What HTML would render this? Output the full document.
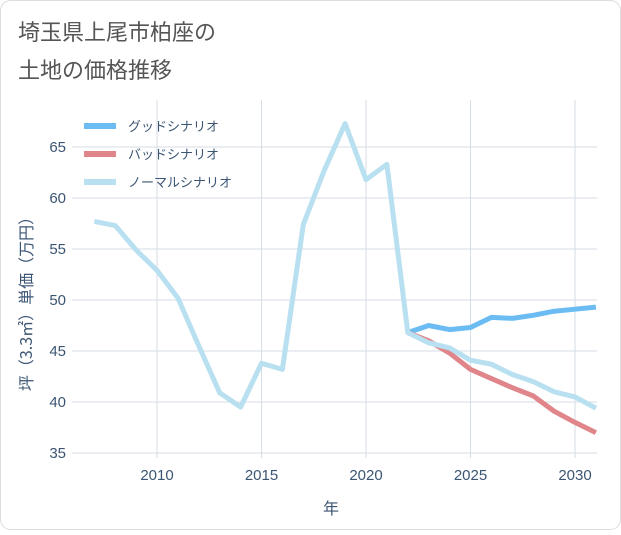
<!DOCTYPE html>
<html><head><meta charset="utf-8"><style>
body{margin:0;background:#fff;}
#wrap{position:relative;width:621px;height:530px;font-family:"Liberation Sans","Noto Sans CJK JP",sans-serif;}
</style></head><body>
<div id="wrap">
<svg id="chart" width="621" height="530">
<rect x="0.5" y="0.5" width="620" height="529" rx="10" fill="#fff" stroke="#ddd"/>
<text x="18" y="40" font-size="22" fill="#555" font-family="Noto Sans CJK JP, sans-serif">埼玉県上尾市柏座の</text>
<text x="18" y="78" font-size="22" fill="#555" font-family="Noto Sans CJK JP, sans-serif">土地の価格推移</text>
<g id="grid"></g><g id="series"></g><g id="axes"></g>
<text x="331" y="514" font-size="16" fill="#3b5573" text-anchor="middle" font-family="Noto Sans CJK JP, sans-serif">年</text>
<text transform="translate(32,300) rotate(-90)" font-size="16" fill="#3b5573" text-anchor="middle" font-family="Noto Sans CJK JP, sans-serif">坪（3.3㎡）単価（万円）</text>
<g id="legend"></g>
</svg></div>
<script>
const years=[2007,2008,2009,2010,2011,2012,2013,2014,2015,2016,2017,2018,2019,2020,2021,2022,2023,2024,2025,2026,2027,2028,2029,2030,2031];
const normal=[57.7,57.3,54.9,52.9,50.2,45.5,40.9,39.5,43.8,43.2,57.4,62.7,67.3,61.8,63.3,46.8,45.8,45.3,44.1,43.7,42.7,42.0,41.0,40.5,39.4];
const goodYears=[2022,2023,2024,2025,2026,2027,2028,2029,2030,2031];
const good=[46.8,47.5,47.1,47.3,48.3,48.2,48.5,48.9,49.1,49.3];
const bad=[46.8,46.0,44.8,43.2,42.3,41.4,40.6,39.1,38.0,37.0];
const xTicks=[2010,2015,2020,2025,2030];
const yTicks=[35,40,45,50,55,60,65];
const legendLabels=["グッドシナリオ","バッドシナリオ","ノーマルシナリオ"];
const ns="http://www.w3.org/2000/svg";
const L=72,R=597,T=100,B=458;
const xs=y=>157+(y-2010)*20.9;
const ys=v=>453-(v-35)*10.2;
function mk(tag,attrs,parent){const e=document.createElementNS(ns,tag);for(const k in attrs)e.setAttribute(k,attrs[k]);document.getElementById(parent).appendChild(e);return e;}
xTicks.forEach(t=>{const l=mk('line',{x1:xs(t),x2:xs(t),y1:T,y2:B,stroke:'#d5dde6'},'grid');

const tx=mk('text',{x:xs(t),y:480,'font-size':15,fill:'#3b5573','text-anchor':'middle'},'axes');tx.textContent=t;
});
yTicks.forEach(t=>{const l=mk('line',{x1:L,x2:R,y1:ys(t),y2:ys(t),stroke:'#d5dde6'},'grid');

const tx=mk('text',{x:66,y:ys(t)+5,'font-size':15,fill:'#3b5573','text-anchor':'end'},'axes');tx.textContent=t;
});
const cp=mk('clipPath',{id:'clip'},'series');mk('rect',{x:L,y:T,width:R-L,height:B-T},'clip');
function line(xv,yv,color,name){const p=mk('polyline',{points:xv.map((x,i)=>xs(x)+','+ys(yv[i])).join(' '),fill:'none',stroke:color,'stroke-width':5,'stroke-linejoin':'round','clip-path':'url(#clip)'},'series');
}
line(goodYears,good,'#6bbcf3','good-scenario-line');
line(goodYears,bad,'#e0868b','bad-scenario-line');
line(years,normal,'#b8e0f0','normal-scenario-line');
const lc=['#6bbcf3','#e0868b','#b8e0f0'];
legendLabels.forEach((s,i)=>{const y=126+i*28;
const r=mk('line',{x1:84,x2:116,y1:y,y2:y,stroke:lc[i],'stroke-width':6},'legend');

const t=mk('text',{x:128,y:y+5,'font-size':13,fill:'#3b5573','font-family':'Noto Sans CJK JP, sans-serif'},'legend');t.textContent=s;
});
</script></body></html>
